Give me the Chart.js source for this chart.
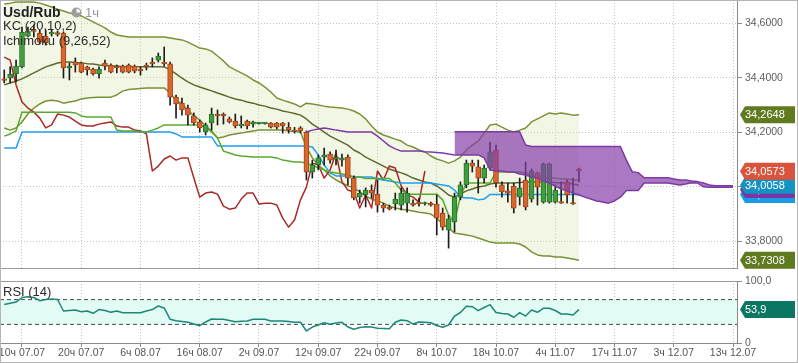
<!DOCTYPE html>
<html><head><meta charset="utf-8">
<script src="https://cdn.jsdelivr.net/npm/chart.js@4.4.1/dist/chart.umd.min.js"></script>
<style>
html,body{margin:0;padding:0;background:#fff;}
#wrap{position:relative;width:798px;height:363px;overflow:hidden;background:#fff;font-family:"Liberation Sans",Arial,sans-serif;}
#main{position:absolute;left:0;top:0;}
#rsi{position:absolute;left:0;top:270px;}
.lbl{position:absolute;left:3px;white-space:nowrap;line-height:1;color:#2a2a2a;font-size:13px;}
#frame{position:absolute;left:0;top:0;width:798px;height:363px;box-sizing:border-box;border:1px solid #b5b5b5;pointer-events:none;}
</style></head>
<body><div id="wrap">
<canvas id="main" width="798" height="270"></canvas>
<canvas id="rsi" width="798" height="93"></canvas>
<div class="lbl" style="top:5px;font-weight:bold;font-size:14px;color:#222">Usd/Rub</div>
<svg style="position:absolute;left:71px;top:7px" width="11" height="11" viewBox="0 0 11 11"><circle cx="5.5" cy="5.5" r="5" fill="#9c9c9c"/><path d="M5.5 5.5 L5.5 1.8 A3.7 3.7 0 0 1 9.2 5.5 Z" fill="#fff"/></svg>
<div class="lbl" style="left:85px;top:6px;color:#999">1ч</div>
<div class="lbl" style="top:19px">KC (20,10,2)</div>
<div class="lbl" style="top:34px">Ichimoku (9,26,52)</div>
<div class="lbl" style="top:285px">RSI (14)</div>
<div id="frame"></div>
</div>
<script>
// ---------- data ----------
const tickLabels = ["10ч 07.07","20ч 07.07","6ч 08.07","16ч 08.07","2ч 09.07","12ч 09.07","22ч 09.07","8ч 10.07","18ч 10.07","4ч 11.07","17ч 11.07","3ч 12.07","13ч 12.07"];
const tickIndex = [3,13,23,33,43,53,63,73,83,93,103,113,123];
const priceTicks = [33.8,34.0,34.2,34.4,34.6];
const rsiTicks = [0,100];
const rsiLevels = [70,30];

const opens = [34.396,34.399,34.414,34.440,34.553,34.575,34.564,34.553,34.561,34.566,
34.564,34.436,34.458,34.454,34.440,34.432,34.414,34.454,34.447,34.443,
34.443,34.447,34.443,34.432,34.447,34.458,34.465,34.458,34.451,34.329,
34.307,34.289,34.260,34.238,34.201,34.234,34.267,34.267,34.249,34.241,
34.223,34.241,34.230,34.232,34.232,34.234,34.234,34.234,34.218,34.207,
34.216,34.201,34.054,34.080,34.109,34.120,34.102,34.098,34.109,34.032,
33.962,33.970,33.988,33.973,33.933,33.926,33.937,33.933,33.940,33.939,
33.944,33.937,33.939,33.937,33.904,33.841,33.871,33.962,34.007,34.087,
34.073,34.032,34.069,34.135,34.007,33.985,34.003,33.962,34.025,33.955,
34.051,33.944,33.944,33.944,33.944,34.018,33.940,34.065];
const closes = [34.390,34.414,34.443,34.568,34.572,34.570,34.531,34.528,34.568,34.559,
34.436,34.443,34.447,34.421,34.429,34.414,34.432,34.443,34.421,34.436,
34.421,34.421,34.425,34.425,34.440,34.451,34.480,34.451,34.329,34.304,
34.282,34.263,34.234,34.216,34.227,34.267,34.260,34.260,34.238,34.223,
34.230,34.223,34.238,34.234,34.234,34.219,34.219,34.223,34.210,34.203,
34.205,34.054,34.080,34.106,34.117,34.098,34.109,34.106,34.032,33.959,
33.977,33.988,33.977,33.933,33.922,33.918,33.955,33.977,33.977,33.933,
33.937,33.940,33.933,33.885,33.852,33.882,33.962,34.007,34.087,34.076,
34.032,34.069,34.128,34.014,33.981,33.977,33.922,33.996,33.926,34.058,
33.999,34.084,34.084,33.988,33.940,33.970,33.937,34.0573];
const highs = [34.429,34.440,34.465,34.586,34.586,34.594,34.575,34.575,34.575,34.572,
34.568,34.454,34.473,34.458,34.443,34.436,34.440,34.465,34.451,34.447,
34.447,34.451,34.447,34.440,34.454,34.473,34.491,34.513,34.458,34.337,
34.326,34.300,34.271,34.245,34.234,34.289,34.282,34.271,34.256,34.267,
34.260,34.245,34.241,34.236,34.236,34.236,34.236,34.236,34.236,34.218,
34.221,34.205,34.098,34.117,34.142,34.128,34.135,34.120,34.117,34.040,
33.988,33.996,34.007,34.025,33.940,33.933,33.977,33.996,33.996,33.952,
33.959,33.944,33.944,33.970,33.922,33.896,33.977,34.018,34.098,34.098,
34.098,34.080,34.164,34.153,34.018,34.014,34.014,34.032,34.091,34.065,
34.054,34.087,34.087,34.007,34.018,34.025,34.032,34.069];
const lows = [34.381,34.381,34.385,34.436,34.550,34.550,34.524,34.520,34.553,34.553,
34.399,34.392,34.421,34.418,34.410,34.410,34.399,34.429,34.418,34.418,
34.418,34.418,34.418,34.410,34.429,34.440,34.458,34.443,34.300,34.252,
34.263,34.227,34.227,34.201,34.190,34.208,34.227,34.230,34.234,34.216,
34.216,34.212,34.219,34.230,34.230,34.216,34.212,34.197,34.197,34.197,
34.197,34.025,34.032,34.062,34.080,34.087,34.080,34.076,34.007,33.952,
33.940,33.926,33.959,33.907,33.907,33.915,33.915,33.915,33.907,33.929,
33.929,33.933,33.929,33.823,33.841,33.775,33.834,33.952,33.996,34.054,
33.977,34.014,34.062,33.999,33.962,33.944,33.904,33.933,33.915,33.944,
33.933,33.940,33.940,33.940,33.939,33.940,33.935,34.018];

const kcUpper = [34.671,34.674,34.678,34.678,34.678,34.678,34.674,34.667,34.660,34.652,
34.645,34.638,34.634,34.627,34.616,34.605,34.594,34.583,34.568,34.557,
34.553,34.550,34.550,34.550,34.550,34.550,34.550,34.550,34.546,34.542,
34.539,34.531,34.520,34.509,34.506,34.498,34.480,34.462,34.440,34.429,
34.418,34.407,34.392,34.381,34.366,34.348,34.326,34.318,34.311,34.304,
34.293,34.307,34.304,34.300,34.296,34.293,34.291,34.289,34.285,34.278,
34.267,34.249,34.223,34.201,34.190,34.183,34.175,34.168,34.153,34.146,
34.135,34.128,34.113,34.102,34.095,34.087,34.095,34.109,34.135,34.153,
34.168,34.197,34.227,34.230,34.219,34.208,34.201,34.208,34.216,34.238,
34.249,34.260,34.271,34.267,34.271,34.267,34.263,34.2648];
const kcMid = [34.374,34.381,34.388,34.396,34.407,34.418,34.429,34.440,34.447,34.454,
34.458,34.458,34.456,34.454,34.452,34.451,34.447,34.445,34.443,34.443,
34.441,34.441,34.441,34.441,34.441,34.441,34.441,34.440,34.429,34.414,
34.399,34.385,34.374,34.366,34.359,34.352,34.344,34.337,34.329,34.322,
34.318,34.311,34.307,34.300,34.296,34.289,34.285,34.278,34.274,34.269,
34.263,34.249,34.230,34.216,34.201,34.186,34.175,34.164,34.153,34.135,
34.124,34.109,34.098,34.087,34.076,34.065,34.058,34.051,34.043,34.032,
34.025,34.018,34.014,34.003,33.988,33.970,33.962,33.973,33.985,33.992,
33.999,34.003,34.010,34.014,34.014,34.014,34.014,34.016,34.018,34.018,
34.018,34.018,34.018,34.016,34.014,34.014,34.010,34.006];
const kcLower = [34.216,34.208,34.216,34.238,34.267,34.289,34.304,34.315,34.318,34.315,
34.307,34.311,34.315,34.322,34.326,34.328,34.329,34.329,34.329,34.337,
34.351,34.357,34.359,34.361,34.363,34.363,34.363,34.363,34.344,34.318,
34.304,34.282,34.260,34.245,34.223,34.205,34.179,34.183,34.190,34.194,
34.197,34.201,34.205,34.208,34.208,34.208,34.208,34.208,34.205,34.203,
34.201,34.146,34.106,34.080,34.062,34.040,34.025,34.014,34.003,33.996,
33.981,33.966,33.955,33.948,33.940,33.929,33.922,33.918,33.915,33.911,
33.907,33.904,33.900,33.885,33.863,33.849,33.830,33.827,33.823,33.819,
33.812,33.805,33.797,33.794,33.794,33.794,33.794,33.790,33.779,33.761,
33.750,33.746,33.746,33.742,33.742,33.739,33.735,33.7308];

const tenkan = [34.186,34.194,34.205,34.274,34.274,34.274,34.274,34.274,34.274,34.274,
34.274,34.274,34.271,34.260,34.256,34.256,34.256,34.256,34.256,34.208,
34.205,34.205,34.205,34.201,34.201,34.208,34.216,34.227,34.227,34.227,
34.227,34.227,34.227,34.227,34.219,34.201,34.179,34.131,34.124,34.117,
34.113,34.111,34.109,34.109,34.109,34.109,34.106,34.098,34.095,34.091,
34.091,34.087,34.080,34.069,34.062,34.054,34.051,34.047,34.043,34.036,
34.036,34.030,34.030,34.030,34.030,34.030,34.014,33.988,33.973,33.973,
33.973,33.973,33.973,33.973,33.952,33.896,33.871,33.966,34.014,34.014,
34.014,34.014,34.014,34.054,34.054,34.054,34.054,34.054,34.051,34.043,
34.036,34.032,34.032,34.032,34.029,34.029,34.025,34.025];
const kijun = [34.142,34.142,34.142,34.201,34.201,34.201,34.201,34.201,34.201,34.201,
34.201,34.201,34.201,34.201,34.201,34.201,34.201,34.201,34.201,34.201,
34.201,34.201,34.201,34.201,34.201,34.201,34.201,34.201,34.201,34.194,
34.183,34.183,34.183,34.183,34.183,34.183,34.150,34.150,34.150,34.150,
34.150,34.150,34.150,34.150,34.150,34.150,34.150,34.150,34.150,34.150,
34.150,34.150,34.146,34.117,34.080,34.051,34.040,34.040,34.040,34.036,
34.036,34.036,34.036,34.029,34.025,34.021,34.018,34.014,34.014,34.014,
34.014,34.014,34.014,34.010,34.007,34.003,33.988,33.962,33.959,33.959,
33.952,33.955,33.972,33.972,33.972,33.972,33.972,33.972,33.972,33.972,
33.972,33.972,33.972,33.972,33.972,33.972,33.972,33.972];
const chikou = [34.476,34.465,34.374,34.311,34.289,34.274,34.252,34.216,34.227,34.267,
34.263,34.256,34.241,34.227,34.223,34.223,34.230,34.234,34.238,34.223,
34.219,34.219,34.208,34.205,34.194,34.058,34.076,34.102,34.113,34.098,
34.106,34.106,34.032,33.962,33.977,33.981,33.973,33.929,33.918,33.922,
33.955,33.977,33.977,33.937,33.940,33.940,33.933,33.885,33.852,33.878,
33.952,33.999,34.087,34.080,34.032,34.062,34.124,34.018,33.988,33.981,
33.922,33.970,33.922,34.058,34.025,34.076,34.069,34.003,33.970,33.962,
33.944,34.058];
const spanAStart = 51;
const spanA = [34.201,34.208,34.212,34.216,34.212,34.208,34.205,34.201,34.201,34.201,
34.201,34.201,34.186,34.168,34.150,34.139,34.131,34.131,34.131,34.131,
34.129,34.128,34.126,34.124,34.120,34.117,34.117,34.117,34.117,34.117,
34.106,34.062,34.058,34.058,34.054,34.054,34.047,34.043,34.036,34.032,
34.021,34.014,34.003,33.992,33.985,33.977,33.970,33.962,33.955,33.948,
33.944,33.940,33.948,33.962,33.986,33.986,33.986,34.014,34.014,34.014,
34.014,34.014,34.010,34.007,34.010,34.015,34.014,34.000,33.998,33.998,
33.998,33.998,33.998];
const spanBStart = 76;
const spanB = [34.202,34.202,34.202,34.202,34.202,34.202,34.202,34.202,34.202,34.202,
34.202,34.202,34.153,34.148,34.148,34.148,34.148,34.148,34.148,34.148,
34.148,34.148,34.148,34.148,34.148,34.148,34.148,34.148,34.148,34.098,
34.055,34.052,34.033,34.033,34.033,34.033,34.033,34.029,34.025,34.025,
34.021,34.019,34.014,34.007,34.004,34.004,34.004,34.004];

const rsi = [62,64,66,73.4,74.7,73.4,68.2,70.2,71,70.2,
51.6,52.4,53.2,50.5,51.6,47.9,54,52.4,49.5,51.6,
48.9,48.9,48.9,48.9,51.6,54,59.7,56.5,38.2,36,
34.7,33.4,30.6,27.9,33.9,38.7,38.4,38.2,36.3,34.4,
35,35.5,38.2,38.2,38.2,35.5,35.5,35.5,34.7,33.4,
33.4,19.4,25.8,29,32.7,30.2,32.3,33.4,25.8,22.1,
25,26.1,25.8,23.9,23.4,23.1,33.4,37.1,36,30.6,
33.9,33.4,32.7,28.2,25.3,29,43.5,49.2,59.4,58.5,
52.1,57.3,61.8,49.2,47.6,46.8,41.5,48.9,43.5,53.2,
49.5,56,56,52.4,46.8,46.8,45.2,53.9];

const tagValues = [34.2648, 33.7308, 33.972, 33.990, 34.0058, 34.0573];
const tagColors = ['#5f7a1f','#5f7a1f','#1a9be6','#7a36a3','#1592c2','#da533c'];
const rsiTagColor = '#0b7763';

// ---------- helpers ----------
const xMin = -0.713, xMax = 123.675;
const yMin = 33.702, yMax = 34.6855;
const FONT = '"Liberation Sans", Arial, sans-serif';
Chart.defaults.font.family = FONT;
const fmt4 = v => v.toFixed(4).replace('.', ',');
const pts = (arr, start = 0) => arr.map((v, i) => ({x: start + i, y: v}));
const GRID = '#c0c8ba';
const UPC = '#3f9f3f', UPB = '#2a6e2a', DNC = '#d9662a', DNB = '#a0441a';

const tagPlugin = {
  id: 'tags',
  afterDraw(chart) {
    const opts = chart.options.plugins.tags;
    if (!opts || !opts.items) return;
    const {ctx, chartArea} = chart;
    const y = chart.scales.y;
    ctx.save();
    opts.items.forEach(t => {
      const cy = y.getPixelForValue(t.value);
      const x0 = chartArea.right + 3, x1 = chartArea.right + 8, x2 = chart.width - 3, h = 8.5;
      ctx.fillStyle = t.color;
      ctx.beginPath();
      ctx.moveTo(x0, cy); ctx.lineTo(x1, cy - h); ctx.lineTo(x2, cy - h);
      ctx.lineTo(x2, cy + h); ctx.lineTo(x1, cy + h); ctx.closePath(); ctx.fill();
      ctx.fillStyle = '#fff';
      ctx.font = '11px ' + FONT;
      ctx.textAlign = 'left'; ctx.textBaseline = 'middle';
      ctx.fillText(t.text, chartArea.right + 8, cy + 0.5);
    });
    ctx.restore();
  }
};

const noPad = s => { s.paddingTop = 0; s.paddingBottom = 0; s.paddingLeft = 0; s.paddingRight = 0; };

// ---------- main chart ----------
const line = (data, color, order, extra = {}) => Object.assign({
  type: 'line', data, borderColor: color, borderWidth: 1.5, pointRadius: 0,
  tension: 0, fill: false, order, borderJoinStyle: 'round'
}, extra);

new Chart(document.getElementById('main'), {
  type: 'bar',
  data: {
    datasets: [
      line(pts(kcUpper), '#7a9136', 10, {fill: '+1', backgroundColor: 'rgba(214,226,170,0.32)'}),
      line(pts(kcLower), '#7a9136', 9),
      line(pts(kcMid), '#5b6a2c', 8),
      line(pts(chikou), '#aa2828', 7),
      line(pts(kijun), '#1e9ff0', 6),
      line(pts(tenkan), '#59a92f', 5),
      {type: 'bar', data: opens.map((o, i) => ({x: i, y: [lows[i], highs[i]]})),
       backgroundColor: '#1c1c1c', barThickness: 1, grouped: false, order: 4, borderWidth: 0},
      {type: 'bar', data: opens.map((o, i) => ({x: i, y: [o, closes[i]]})),
       backgroundColor: opens.map((o, i) => closes[i] >= o ? UPC : DNC),
       borderColor: opens.map((o, i) => closes[i] >= o ? UPB : DNB),
       borderWidth: 1, borderSkipped: false, barThickness: 5, minBarLength: 1.5, grouped: false, order: 3},
      line(pts(spanA.slice(0, spanBStart - spanAStart + 1), spanAStart), '#7d3aa3', 2),
      line(pts(spanA.slice(spanBStart - spanAStart), spanBStart), '#7d3aa3', 1,
           {fill: '+1', backgroundColor: 'rgba(136,62,170,0.7)'}),
      line(pts(spanB, spanBStart), '#7d3aa3', 0)
    ]
  },
  options: {
    responsive: false, animation: false, devicePixelRatio: 1,
    layout: {padding: 0},
    plugins: {legend: {display: false}, tooltip: {enabled: false},
      tags: {items: tagValues.map((v, i) => ({value: v, color: tagColors[i], text: fmt4(v)}))}},
    scales: {
      x: {type: 'linear', min: xMin, max: xMax, offset: false,
        afterBuildTicks: s => { s.ticks = tickIndex.map(v => ({value: v})); },
        ticks: {display: false},
        grid: {color: GRID, drawTicks: false, offset: false},
        border: {display: true, color: '#9a9a9a', dash: [1, 2]},
        afterFit: s => { s.height = 2; noPad(s); }
      },
      y: {type: 'linear', position: 'right', min: yMin, max: yMax, beginAtZero: false,
        afterBuildTicks: s => { s.ticks = priceTicks.map(v => ({value: v})); },
        ticks: {color: '#5e5e5e', font: {size: 10.5}, padding: 3, callback: v => fmt4(v)},
        grid: {color: GRID, tickColor: '#8a8a8a', tickLength: 5},
        border: {display: true, color: '#8a8a8a', dash: [1, 2]},
        afterFit: s => { s.width = 61; noPad(s); }
      }
    }
  },
  plugins: [tagPlugin]
});

// ---------- RSI chart ----------
new Chart(document.getElementById('rsi'), {
  type: 'line',
  data: {
    datasets: [
      line([{x: xMin, y: rsiLevels[0]}, {x: xMax, y: rsiLevels[0]}], '#4a4a4a', 3,
           {borderWidth: 1, borderDash: [4, 3], fill: '+1', backgroundColor: '#e2fbf5'}),
      line([{x: xMin, y: rsiLevels[1]}, {x: xMax, y: rsiLevels[1]}], '#4a4a4a', 2,
           {borderWidth: 1, borderDash: [4, 3]}),
      line(pts(rsi), '#1f8776', 1)
    ]
  },
  options: {
    responsive: false, animation: false, devicePixelRatio: 1,
    layout: {padding: {top: 11, left: 0, right: 0, bottom: 0}},
    plugins: {legend: {display: false}, tooltip: {enabled: false},
      tags: {items: [{value: rsi[rsi.length - 1], color: rsiTagColor, text: rsi[rsi.length - 1].toFixed(1).replace('.', ',')}]}},
    scales: {
      x: {type: 'linear', min: xMin, max: xMax, offset: false,
        afterBuildTicks: s => { s.ticks = tickIndex.map(v => ({value: v})); },
        ticks: {color: '#555', font: {size: 10.5}, padding: 0, autoSkip: false, maxRotation: 0,
          callback: v => tickLabels[tickIndex.indexOf(v)]},
        grid: {color: GRID, tickColor: '#8a8a8a', tickLength: 4},
        border: {display: true, color: '#8a8a8a', dash: [1, 2]},
        afterFit: s => { s.height = 20; noPad(s); }
      },
      y: {type: 'linear', position: 'right', min: 0, max: 100,
        afterBuildTicks: s => { s.ticks = rsiTicks.map(v => ({value: v})); },
        ticks: {color: '#5e5e5e', font: {size: 10.5}, padding: 3,
          callback: v => v ? v.toFixed(1).replace('.', ',') : '0'},
        grid: {color: '#9a9a9a', tickColor: '#8a8a8a', tickLength: 5},
        border: {display: true, color: '#8a8a8a'},
        afterFit: s => { s.width = 61; noPad(s); }
      }
    }
  },
  plugins: [tagPlugin]
});
</script>
</body></html>
